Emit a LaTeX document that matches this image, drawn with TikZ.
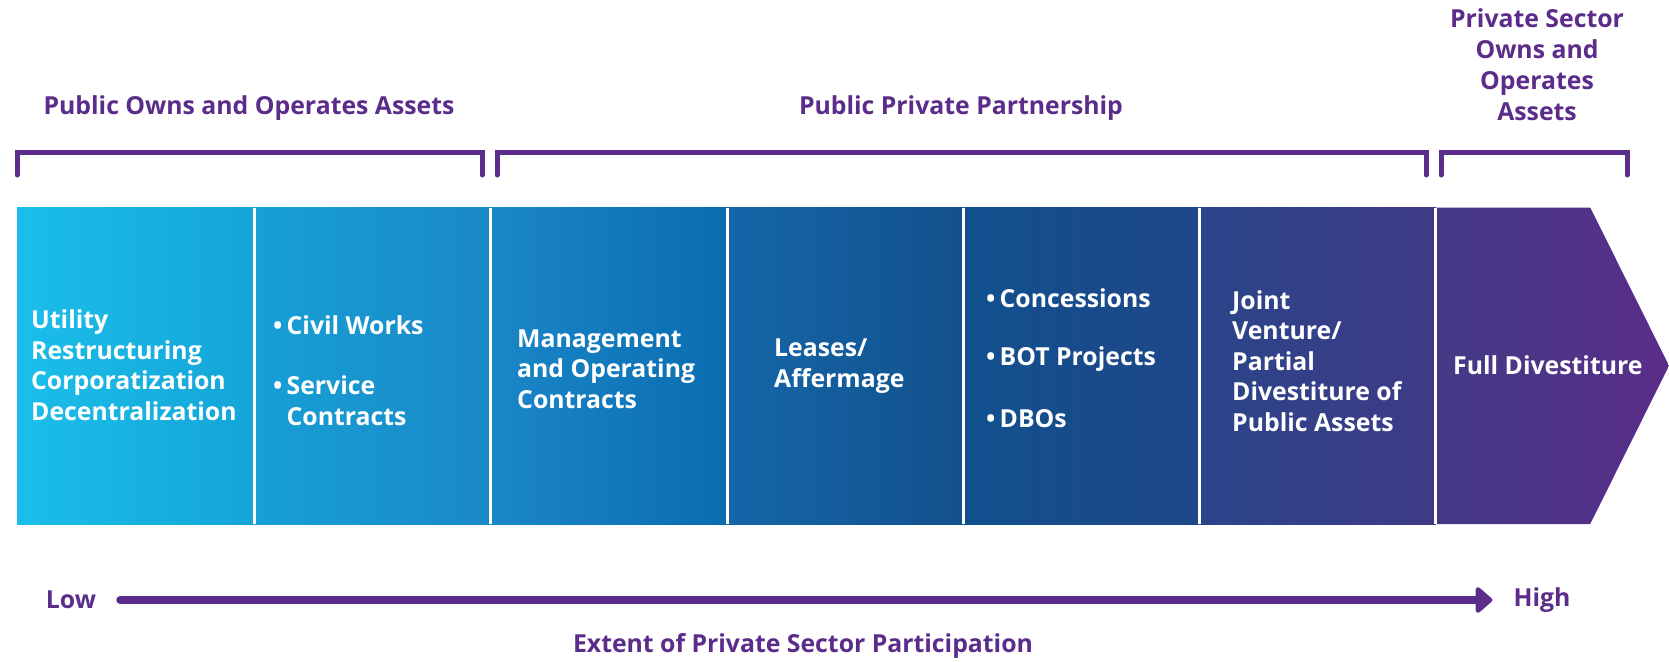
\documentclass[tikz,border=0pt]{standalone}
\usepackage{fontspec}
\setmainfont{Open Sans}
\usetikzlibrary{arrows.meta}
\definecolor{ppurple}{HTML}{5B2C8A}
\begin{document}
\begin{tikzpicture}[x=1pt,y=-1pt,
  title/.style={text=ppurple,font=\bfseries\fontsize{24.8}{31}\selectfont,inner sep=0pt,align=center},
  celltext/.style={text=white,font=\bfseries\fontsize{24.8}{30.5}\selectfont,inner sep=0pt,align=left,anchor=west},
  bracket/.style={draw=ppurple,line width=5pt,line cap=round,line join=miter},
  divider/.style={draw=white,line width=3pt}]
\useasboundingbox (0,0) rectangle (1669,661);
\fill[white] (0,0) rectangle (1669,661);
% cells
\shade[left color={rgb,255:red,27;green,190;blue,234},right color={rgb,255:red,20;green,165;blue,216}] (17,207.5) rectangle (254.4,524);
\shade[left color={rgb,255:red,22;green,160;blue,213},right color={rgb,255:red,26;green,136;blue,200}] (254.4,207.5) rectangle (490.7,524);
\shade[left color={rgb,255:red,26;green,135;blue,200},right color={rgb,255:red,10;green,108;blue,176}] (490.7,207.5) rectangle (727,524);
\shade[left color={rgb,255:red,20;green,102;blue,168},right color={rgb,255:red,19;green,81;blue,141}] (727,207.5) rectangle (963.3,524);
\shade[left color={rgb,255:red,17;green,80;blue,142},right color={rgb,255:red,31;green,71;blue,136}] (963.3,207.5) rectangle (1199.6,524);
\shade[left color={rgb,255:red,42;green,69;blue,137},right color={rgb,255:red,63;green,58;blue,134}] (1199.6,207.5) rectangle (1435.9,524);
\shade[left color={rgb,255:red,67;green,58;blue,135},right color={rgb,255:red,90;green,45;blue,136}] (1435.9,207.5) -- (1590.2,207.5) -- (1669,365.7) -- (1590.2,524) -- (1435.9,524) -- cycle;
\foreach \x in {254.4,490.7,727,963.3,1199.6,1435.9}
  \draw[divider] (\x,207.5) -- (\x,524);
% titles
\node[title] (t1) at (249,108) {Public Owns and Operates Assets};
\node[title] (t2) at (961,108) {Public Private Partnership};
\node[title] (t3) at (1537,64.5) {Private Sector\\Owns and\\Operates\\Assets};
% brackets
\draw[bracket] (17,175) -- (17,152) -- (482,152) -- (482,175);
\draw[bracket] (497,175) -- (497,152) -- (1426,152) -- (1426,175);
\draw[bracket] (1441,175) -- (1441,152) -- (1627,152) -- (1627,175);
% cell texts
\node[celltext] (c1) at (31,365) {Utility\\Restructuring\\Corporatization\\Decentralization};
\node[celltext] (c2a) at (273,325) {\textbullet\,Civil Works};
\node[celltext] (c2b) at (273,400.5) {\textbullet\,Service\\\phantom{\textbullet\,}Contracts};
\node[celltext] (c3) at (517,369) {Management\\and Operating\\Contracts};
\node[celltext] (c4) at (774,366) {Leases/\\Affermage};
\node[celltext] (c5a) at (986,298) {\textbullet\,Concessions};
\node[celltext] (c5b) at (986,359) {\textbullet\,BOT Projects};
\node[celltext] (c5c) at (986,419) {\textbullet\,DBOs};
\node[celltext] (c6) at (1232,361) {Joint\\Venture/\\Partial\\Divestiture of\\Public Assets};
\node[celltext] (c7) at (1453,365) {Full Divestiture};
% axis
\node[title] (low) at (71,600) {Low};
\node[title] (high) at (1542,600) {High};
\node[title] (ext) at (803,646) {Extent of Private Sector Participation};
\draw[draw=ppurple,line width=8pt,line cap=round,shorten <=24pt,shorten >=21pt,
  -{Triangle[length=18pt,width=30pt,round]}] (low.east) -- (high.west);
\end{tikzpicture}
\end{document}
